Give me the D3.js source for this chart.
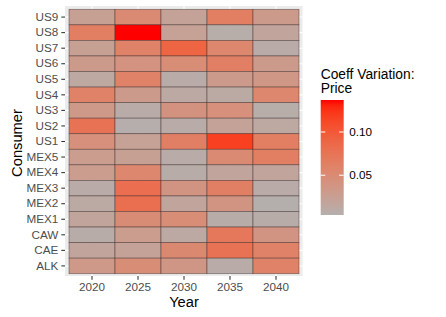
<!DOCTYPE html>
<html><head><meta charset="utf-8">
<script src="https://cdn.jsdelivr.net/npm/d3@7"></script>
<style>body{margin:0;background:#fff;}svg{display:block;font-family:"Liberation Sans",Arial,sans-serif;}</style>
</head><body><svg id="c" width="446" height="317"></svg>
<script>
const consumers = ["US9","US8","US7","US6","US5","US4","US3","US2","US1","MEX5","MEX4","MEX3","MEX2","MEX1","CAW","CAE","ALK"];
const years = ["2020","2025","2030","2035","2040"];
// values per year, in consumer order above
const v2020 = [0.024,0.064,0.024,0.031,0.013,0.060,0.033,0.077,0.044,0.028,0.028,0.009,0.011,0.017,0.008,0.017,0.033];
const v2025 = [0.051,0.137,0.060,0.040,0.060,0.031,0.009,0.005,0.023,0.024,0.055,0.081,0.080,0.049,0.028,0.021,0.048];
const v2030 = [0.021,0.023,0.090,0.048,0.009,0.012,0.041,0.009,0.063,0.009,0.008,0.039,0.017,0.048,0.012,0.053,0.036];
const v2035 = [0.064,0.007,0.055,0.063,0.031,0.011,0.044,0.021,0.117,0.051,0.017,0.063,0.039,0.008,0.071,0.077,0.009];
const v2040 = [0.031,0.017,0.009,0.031,0.035,0.055,0.007,0.013,0.064,0.064,0.017,0.009,0.004,0.008,0.039,0.060,0.060];
const legendTicks = [0.05, 0.10];

const series = {"2020":v2020,"2025":v2025,"2030":v2030,"2035":v2035,"2040":v2040};
const cells = [];
years.forEach(y => consumers.forEach((c,i) => cells.push({year:y, consumer:c, value:series[y][i]})));

const svg = d3.select("#c");
const panel = {x0:65, x1:302.5, y0:6, y1:276};
const x = d3.scaleBand().domain(years).range([69, 299]).padding(0);
const y = d3.scaleBand().domain(consumers).range([9.3, 273.7]).padding(0);
const ext = d3.extent(cells, d => d.value);
const color = d3.scaleLinear().domain(ext).range(["#B4AFAD","#FF0000"]).interpolate(d3.interpolateLab);

svg.append("rect").attr("x",panel.x0).attr("y",panel.y0).attr("width",panel.x1-panel.x0).attr("height",panel.y1-panel.y0).attr("fill","#EBEBEB");
// grid lines
svg.append("g").selectAll("line").data(years).join("line")
  .attr("x1",d=>x(d)+x.bandwidth()/2).attr("x2",d=>x(d)+x.bandwidth()/2)
  .attr("y1",panel.y0).attr("y2",panel.y1).attr("stroke","#fff").attr("stroke-width",1.07);
svg.append("g").selectAll("line").data(consumers).join("line")
  .attr("y1",d=>y(d)+y.bandwidth()/2).attr("y2",d=>y(d)+y.bandwidth()/2)
  .attr("x1",panel.x0).attr("x2",panel.x1).attr("stroke","#fff").attr("stroke-width",1.07);

svg.append("g").selectAll("rect").data(cells).join("rect")
  .attr("x",d=>x(d.year)).attr("y",d=>y(d.consumer))
  .attr("width",x.bandwidth()).attr("height",y.bandwidth())
  .attr("fill",d=>color(d.value))
  .attr("stroke","#3a2a2a").attr("stroke-opacity",0.6).attr("stroke-width",0.7);

// axes
const xAxis = svg.append("g").attr("transform",`translate(0,${panel.y1})`)
  .call(d3.axisBottom(x).tickSize(3.7).tickPadding(3));
const yAxis = svg.append("g").attr("transform",`translate(${panel.x0},0)`)
  .call(d3.axisLeft(y).tickSize(3.7).tickPadding(3));
[xAxis,yAxis].forEach(a=>{
  a.select(".domain").remove();
  a.selectAll(".tick line").attr("stroke","#333").attr("stroke-width",1.07);
  a.selectAll(".tick text").attr("fill","#4D4D4D").style("font-size","11.7px").style("font-family","Liberation Sans, Arial, sans-serif");
});

svg.append("text").attr("x",(69+299)/2).attr("y",307).attr("text-anchor","middle")
  .style("font-size","14.7px").attr("fill","#000").text("Year");
svg.append("text").attr("transform",`translate(22,143) rotate(-90)`).attr("text-anchor","middle")
  .style("font-size","14.7px").attr("fill","#000").text("Consumer");

// legend
const lg = {x:320.7, y0:100, y1:215, w:23};
svg.append("text").attr("x",lg.x).attr("y",78.5).style("font-size","13.8px").text("Coeff Variation:");
svg.append("text").attr("x",lg.x).attr("y",93).style("font-size","13.8px").text("Price");
const defs = svg.append("defs");
const grad = defs.append("linearGradient").attr("id","lg").attr("x1",0).attr("y1",1).attr("x2",0).attr("y2",0);
d3.range(0,1.0001,0.05).forEach(t=>{
  grad.append("stop").attr("offset",t).attr("stop-color",color(ext[0]+t*(ext[1]-ext[0])));
});
svg.append("rect").attr("x",lg.x).attr("y",lg.y0).attr("width",lg.w).attr("height",lg.y1-lg.y0).attr("fill","url(#lg)");
const ly = d3.scaleLinear().domain(ext).range([lg.y1, lg.y0]);
const lt = svg.append("g").selectAll("g").data(legendTicks).join("g");
lt.append("line").attr("x1",lg.x).attr("x2",lg.x+4.6).attr("y1",d=>ly(d)).attr("y2",d=>ly(d)).attr("stroke","#fff").attr("stroke-width",1);
lt.append("line").attr("x1",lg.x+lg.w-4.6).attr("x2",lg.x+lg.w).attr("y1",d=>ly(d)).attr("y2",d=>ly(d)).attr("stroke","#fff").attr("stroke-width",1);
lt.append("text").attr("x",lg.x+lg.w+5.5).attr("y",d=>ly(d)).attr("dy","0.35em").style("font-size","11.7px").attr("fill","#000")
  .text(d=>d3.format(".2f")(d));
</script></body></html>
